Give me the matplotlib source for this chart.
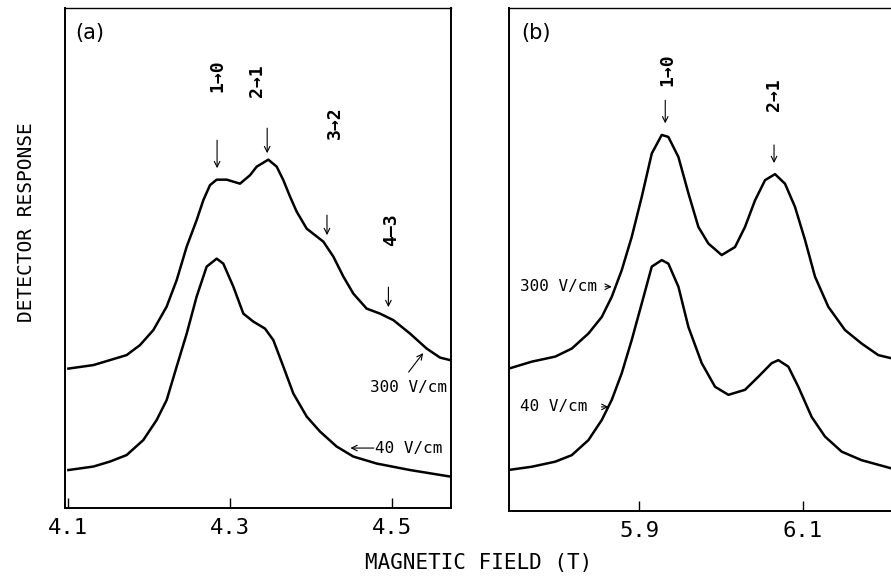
import matplotlib
matplotlib.use('Agg')
import matplotlib.pyplot as plt
import numpy as np

# panel (a): field (T) and detector response (arb. units)
a_field_300 = [4.1000, 4.1309, 4.1515, 4.1721, 4.1886, 4.2051, 4.2216, 4.2340, 4.2464,
               4.2587, 4.2670, 4.2752, 4.2835, 4.2959, 4.3124, 4.3248, 4.3330, 4.3474,
               4.3578, 4.3660, 4.3743, 4.3825, 4.3949, 4.4155, 4.4279, 4.4403, 4.4526,
               4.4691, 4.4856, 4.5021, 4.5228, 4.5434, 4.5599, 4.5723]
a_resp_300 = [27.9, 28.6, 29.6, 30.6, 32.6, 35.6, 40.3, 45.6, 52.3,
              57.6, 61.6, 64.6, 65.7, 65.7, 64.9, 66.6, 68.3, 69.7,
              68.3, 65.6, 62.3, 59.3, 55.9, 53.3, 50.3, 46.3, 42.9,
              39.9, 38.9, 37.6, 34.9, 31.9, 30.1, 29.6]

a_field_40 = [4.1000, 4.1309, 4.1515, 4.1721, 4.1927, 4.2092, 4.2216, 4.2340, 4.2464,
              4.2587, 4.2711, 4.2835, 4.2917, 4.3041, 4.3165, 4.3289, 4.3433, 4.3536,
              4.3660, 4.3784, 4.3949, 4.4114, 4.4320, 4.4526, 4.4815, 4.5228, 4.5723]
a_resp_40 = [7.6, 8.3, 9.3, 10.6, 13.6, 17.6, 21.6, 28.3, 34.9,
             42.3, 48.3, 49.9, 48.9, 44.3, 38.9, 37.3, 35.9, 33.6,
             28.3, 22.9, 18.3, 15.3, 12.3, 10.3, 8.9, 7.6, 6.3]

# panel (b)
b_field_300 = [5.7424, 5.7688, 5.7974, 5.8177, 5.8381, 5.8544, 5.8666, 5.8788, 5.8910,
               5.9033, 5.9155, 5.9277, 5.9358, 5.9481, 5.9603, 5.9725, 5.9847, 6.0010,
               6.0173, 6.0295, 6.0418, 6.0540, 6.0662, 6.0784, 6.0906, 6.1029, 6.1151,
               6.1314, 6.1517, 6.1721, 6.1925, 6.2079]
b_resp_300 = [28.4, 29.7, 30.7, 32.3, 35.3, 38.6, 42.6, 47.9, 54.5,
              62.5, 71.1, 74.8, 74.4, 70.4, 63.2, 56.5, 53.2, 50.9,
              52.5, 56.5, 61.8, 65.8, 67.0, 65.1, 60.5, 53.9, 46.6,
              40.6, 36.0, 33.3, 31.0, 30.4]

b_field_40 = [5.7424, 5.7688, 5.7974, 5.8177, 5.8381, 5.8544, 5.8666, 5.8788, 5.8910,
              5.9033, 5.9155, 5.9277, 5.9358, 5.9481, 5.9603, 5.9766, 5.9929, 6.0092,
              6.0295, 6.0458, 6.0621, 6.0703, 6.0825, 6.0947, 6.1110, 6.1273, 6.1477,
              6.1721, 6.2079]
b_resp_40 = [8.2, 8.8, 9.8, 11.1, 14.1, 18.1, 22.1, 27.4, 34.0,
             41.3, 48.6, 49.9, 49.2, 44.6, 36.6, 29.4, 24.7, 23.1,
             24.1, 26.7, 29.4, 30.0, 28.7, 24.7, 18.7, 14.8, 11.8,
             10.1, 8.5]

a_ticks = [4.1, 4.3, 4.5]
b_ticks = [5.9, 6.1]

font = 'DejaVu Sans Mono'

fig = plt.figure(figsize=(8.91, 5.88), dpi=100)
ax1 = fig.add_axes([0.0724, 0.136, 0.4338, 0.850])
ax2 = fig.add_axes([0.5713, 0.131, 0.4287, 0.855])

for ax in (ax1, ax2):
    ax.set_ylim(0, 100)
    ax.set_yticks([])
    for s in ax.spines.values():
        s.set_linewidth(1.4)
    ax.spines['top'].set_linewidth(1.0)
    ax.tick_params(axis='x', direction='in', length=7, width=1.0, pad=7, top=False)

ax2.spines['right'].set_visible(False)

ax1.plot(a_field_300, a_resp_300, color='black', lw=1.8)
ax1.plot(a_field_40, a_resp_40, color='black', lw=1.8)
ax1.set_xlim(4.0952, 4.5735)
ax1.set_xticks(a_ticks)
ax1.set_xticklabels(['4.1', '4.3', '4.5'], family=font, fontsize=16)

ax2.plot(b_field_300, b_resp_300, color='black', lw=1.8)
ax2.plot(b_field_40, b_resp_40, color='black', lw=1.8)
ax2.set_xlim(5.741, 6.208)
ax2.set_xticks(b_ticks)
ax2.set_xticklabels(['5.9', '6.1'], family=font, fontsize=16)

arr = dict(arrowstyle='->', color='black', lw=0.8, shrinkA=0, shrinkB=0)

# panel (a) annotations
ax1.text(0.065, 0.95, '(a)', transform=ax1.transAxes, fontsize=15,
         va='center', ha='center')
for x, ty, lab in [(4.284, 86.6, '1→0'), (4.334, 85.6, '2→1'),
                   (4.430, 77.0, '3→2'), (4.499, 55.6, '4–3')]:
    ax1.text(x, ty, lab, rotation=90, family=font, fontsize=13,
             ha='center', va='center', fontweight='bold')
for x, y0, y1 in [(4.284, 73.6, 68.0), (4.346, 76.0, 71.0),
                  (4.420, 58.6, 54.6), (4.496, 44.2, 40.2)]:
    ax1.annotate('', xy=(x, y1), xytext=(x, y0), arrowprops=arr)

ax1.annotate('', xy=(4.539, 31.0), xytext=(4.521, 27.2), arrowprops=arr)
ax1.text(4.521, 24.2, '300 V/cm', family=font, fontsize=11.5, ha='center', va='center')
ax1.annotate('', xy=(4.449, 12.0), xytext=(4.478, 12.0), arrowprops=arr)
ax1.text(4.479, 12.0, '40 V/cm', family=font, fontsize=11.5, ha='left', va='center')

# panel (b) annotations
ax2.text(0.07, 0.95, '(b)', transform=ax2.transAxes, fontsize=15,
         va='center', ha='center')
ax2.text(5.934, 87.7, '1→0', rotation=90, family=font, fontsize=13,
         ha='center', va='center', fontweight='bold')
ax2.annotate('', xy=(5.932, 77.1), xytext=(5.932, 81.7), arrowprops=arr)
ax2.text(6.065, 82.8, '2→1', rotation=90, family=font, fontsize=13,
         ha='center', va='center', fontweight='bold')
ax2.annotate('', xy=(6.065, 69.2), xytext=(6.065, 72.8), arrowprops=arr)

ax2.text(5.7546, 44.6, '300 V/cm', family=font, fontsize=11.5, ha='left', va='center')
ax2.annotate('', xy=(5.8666, 44.6), xytext=(5.8584, 44.6), arrowprops=arr)
ax2.text(5.7546, 20.7, '40 V/cm', family=font, fontsize=11.5, ha='left', va='center')
ax2.annotate('', xy=(5.8625, 20.7), xytext=(5.854, 20.7), arrowprops=arr)

fig.text(0.030, 0.623, 'DETECTOR RESPONSE', rotation=90, family=font, fontsize=14,
         ha='center', va='center')
fig.text(0.537, 0.043, 'MAGNETIC FIELD (T)', family=font, fontsize=15,
         ha='center', va='center')

fig.savefig('out.png', dpi=100)
